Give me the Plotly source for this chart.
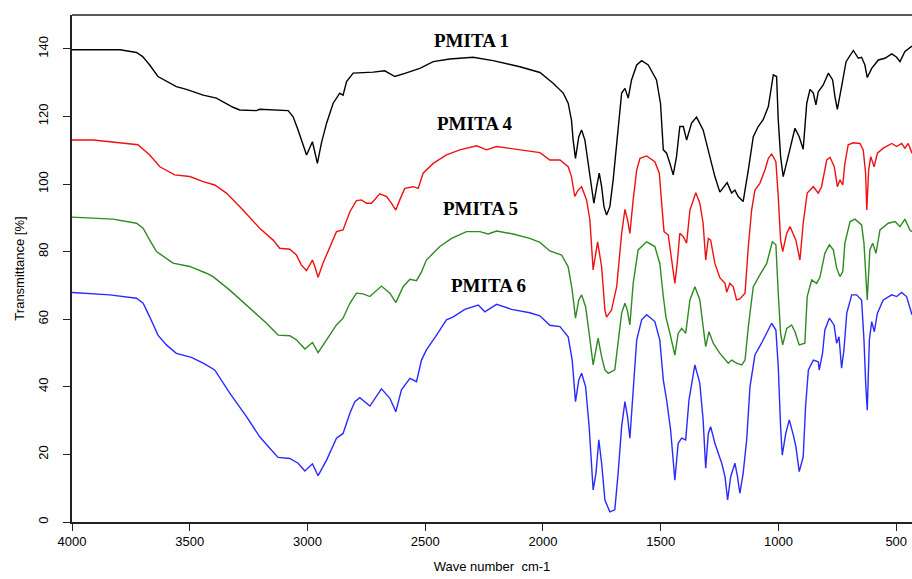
import plotly.graph_objects as go

# ---------------- data (wavenumber cm-1, transmittance %) ----------------
pm1_wn = [4000, 3796, 3726, 3700, 3670, 3635, 3557, 3514, 3443, 3387, 3316, 3288, 3217, 3203, 3082, 3061, 3040, 3019, 3004, 2979, 2969, 2958, 2941, 2919, 2891, 2863, 2849, 2834, 2806, 2721, 2672, 2629, 2580, 2523, 2466, 2396, 2297, 2212, 2098, 2013, 1957, 1914, 1893, 1879, 1872, 1862, 1848, 1836, 1822, 1808, 1794, 1784, 1772, 1761, 1751, 1741, 1730, 1716, 1702, 1681, 1666, 1652, 1638, 1624, 1602, 1581, 1553, 1518, 1501, 1489, 1475, 1461, 1447, 1433, 1419, 1404, 1390, 1369, 1348, 1320, 1291, 1270, 1249, 1218, 1199, 1185, 1171, 1150, 1128, 1107, 1086, 1065, 1043, 1022, 1008, 1001, 991, 980, 959, 930, 912, 895, 880, 866, 852, 841, 831, 810, 788, 770, 760, 750, 732, 713, 682, 661, 647, 633, 623, 604, 576, 548, 519, 498, 484, 463, 433]
pm1_t = [139.7, 139.7, 138.9, 137.7, 135.2, 131.8, 128.8, 128.0, 126.3, 125.4, 122.7, 121.9, 121.7, 122.1, 121.7, 119.9, 116.0, 111.6, 108.6, 112.5, 109.6, 106.1, 112.1, 118.0, 123.9, 126.9, 126.3, 130.3, 132.8, 133.1, 133.5, 131.8, 132.9, 134.2, 136.2, 137.0, 137.5, 136.5, 134.7, 133.0, 129.8, 126.9, 123.9, 118.9, 113.0, 107.6, 114.0, 116.0, 113.0, 106.1, 98.2, 94.3, 99.2, 103.2, 99.2, 93.3, 90.8, 93.3, 101.2, 116.0, 126.9, 128.3, 125.4, 130.8, 135.2, 136.5, 135.2, 130.8, 123.9, 110.1, 109.1, 106.1, 102.7, 108.1, 117.0, 117.0, 113.0, 118.0, 119.8, 116.0, 108.1, 102.2, 97.6, 100.4, 97.3, 98.2, 96.3, 94.8, 104.2, 114.0, 117.0, 119.0, 122.9, 132.3, 131.8, 119.0, 108.1, 102.2, 108.1, 116.5, 114.0, 110.3, 123.9, 128.0, 126.9, 123.4, 127.3, 129.3, 132.8, 130.8, 125.8, 122.1, 128.8, 136.2, 139.5, 137.2, 137.5, 135.2, 131.5, 134.2, 136.7, 137.2, 138.5, 137.5, 136.2, 139.2, 140.8]

pm4_wn = [4000, 3910, 3769, 3720, 3670, 3627, 3564, 3500, 3443, 3394, 3344, 3274, 3203, 3146, 3118, 3075, 3047, 3026, 3004, 2979, 2969, 2955, 2934, 2905, 2877, 2849, 2820, 2792, 2771, 2749, 2728, 2693, 2664, 2643, 2625, 2608, 2587, 2551, 2530, 2509, 2466, 2410, 2353, 2282, 2240, 2197, 2098, 2013, 1971, 1928, 1893, 1879, 1865, 1851, 1836, 1815, 1801, 1787, 1768, 1751, 1737, 1730, 1709, 1687, 1666, 1652, 1641, 1631, 1617, 1602, 1588, 1560, 1525, 1506, 1496, 1486, 1468, 1454, 1440, 1430, 1419, 1404, 1390, 1376, 1351, 1334, 1320, 1309, 1298, 1288, 1270, 1249, 1227, 1220, 1206, 1192, 1178, 1164, 1150, 1142, 1128, 1114, 1100, 1079, 1057, 1043, 1029, 1011, 1001, 991, 982, 965, 951, 937, 926, 909, 895, 878, 852, 831, 817, 795, 781, 763, 750, 739, 727, 718, 704, 682, 654, 640, 630, 625, 617, 608, 594, 580, 555, 519, 498, 477, 463, 449, 433]
pm4_t = [113.0, 113.0, 112.0, 111.6, 108.6, 105.1, 102.7, 102.2, 100.7, 99.7, 97.3, 92.3, 86.9, 83.4, 81.0, 80.7, 79.0, 76.0, 74.4, 77.5, 75.6, 72.4, 76.6, 81.5, 85.9, 86.4, 91.8, 95.1, 95.3, 94.3, 94.3, 97.1, 96.3, 94.3, 92.3, 95.3, 98.7, 99.2, 98.7, 103.2, 106.1, 108.6, 110.1, 111.3, 110.1, 111.1, 110.1, 109.3, 107.1, 107.1, 105.1, 102.2, 96.3, 98.2, 99.2, 95.3, 89.5, 74.6, 82.9, 75.5, 62.7, 60.6, 62.7, 69.6, 85.4, 92.5, 89.4, 85.4, 95.3, 104.2, 107.6, 108.3, 106.6, 103.2, 94.3, 85.9, 84.9, 77.5, 70.6, 76.5, 85.4, 84.4, 82.5, 92.3, 97.4, 94.3, 88.4, 77.5, 83.9, 83.4, 76.5, 72.3, 70.6, 68.0, 70.6, 69.6, 65.7, 66.0, 67.2, 67.7, 81.5, 92.3, 98.2, 100.2, 104.2, 107.6, 108.9, 106.6, 96.3, 83.4, 80.0, 85.4, 87.4, 85.4, 83.4, 77.5, 88.4, 97.3, 99.2, 97.3, 99.2, 107.1, 107.9, 105.1, 99.2, 101.2, 99.7, 106.1, 111.6, 112.2, 112.0, 110.1, 103.2, 92.3, 104.2, 108.1, 105.1, 109.1, 110.6, 112.0, 111.1, 112.0, 110.6, 112.0, 109.1]

pm5_wn = [4000, 3826, 3726, 3698, 3670, 3641, 3571, 3500, 3429, 3401, 3330, 3245, 3174, 3125, 3075, 3047, 3011, 2979, 2955, 2919, 2877, 2849, 2820, 2792, 2764, 2735, 2686, 2650, 2625, 2594, 2565, 2537, 2516, 2495, 2438, 2388, 2325, 2268, 2233, 2197, 2127, 2056, 2013, 1971, 1921, 1893, 1876, 1862, 1848, 1836, 1819, 1804, 1787, 1766, 1751, 1737, 1723, 1695, 1681, 1666, 1652, 1642, 1631, 1617, 1596, 1560, 1525, 1504, 1489, 1478, 1461, 1440, 1426, 1411, 1394, 1376, 1355, 1334, 1320, 1309, 1295, 1277, 1249, 1213, 1199, 1178, 1156, 1142, 1128, 1107, 1079, 1050, 1026, 1011, 1001, 991, 982, 965, 944, 930, 912, 888, 878, 859, 838, 824, 803, 784, 767, 753, 739, 727, 718, 696, 675, 647, 637, 629, 623, 612, 600, 586, 569, 534, 505, 484, 463, 442, 433]
pm5_t = [90.2, 89.6, 88.4, 86.9, 83.4, 80.0, 76.6, 75.6, 73.6, 72.6, 68.6, 63.2, 58.8, 55.3, 55.1, 53.9, 51.2, 53.1, 50.1, 53.9, 58.3, 60.3, 64.7, 67.7, 67.5, 66.7, 69.8, 67.7, 64.9, 69.6, 71.8, 71.4, 74.0, 77.5, 81.5, 83.9, 85.9, 85.9, 85.2, 86.1, 85.2, 83.9, 82.7, 80.2, 79.0, 75.5, 68.6, 60.3, 65.7, 67.2, 63.7, 55.8, 46.5, 54.4, 48.9, 45.0, 44.0, 45.0, 53.9, 61.8, 64.7, 62.7, 58.3, 70.6, 80.5, 82.9, 81.5, 76.5, 66.7, 60.7, 55.8, 49.4, 55.8, 57.3, 55.8, 65.7, 69.6, 65.7, 57.8, 51.9, 56.3, 52.9, 49.9, 47.0, 47.9, 47.0, 46.5, 47.9, 57.8, 69.6, 73.1, 76.5, 82.9, 82.0, 67.7, 55.8, 52.4, 57.3, 58.3, 56.3, 52.4, 52.9, 66.7, 71.6, 70.6, 72.4, 79.5, 82.0, 80.5, 75.1, 72.6, 74.1, 82.5, 88.9, 89.6, 87.9, 82.5, 70.6, 65.7, 80.5, 82.5, 79.5, 86.4, 88.4, 88.9, 87.4, 89.6, 86.4, 85.9]

pm6_wn = [4000, 3840, 3726, 3698, 3670, 3635, 3599, 3557, 3493, 3443, 3394, 3330, 3259, 3203, 3160, 3125, 3075, 3040, 3011, 2979, 2955, 2919, 2877, 2849, 2820, 2799, 2778, 2735, 2686, 2650, 2625, 2601, 2565, 2537, 2516, 2495, 2452, 2410, 2381, 2332, 2275, 2247, 2197, 2133, 2056, 2013, 1971, 1928, 1893, 1876, 1862, 1848, 1836, 1819, 1804, 1787, 1775, 1763, 1751, 1737, 1716, 1695, 1681, 1666, 1652, 1641, 1631, 1617, 1602, 1581, 1560, 1525, 1504, 1489, 1475, 1458, 1440, 1426, 1411, 1394, 1380, 1355, 1334, 1320, 1309, 1298, 1288, 1270, 1241, 1227, 1216, 1203, 1185, 1174, 1164, 1150, 1135, 1121, 1100, 1072, 1050, 1029, 1011, 1001, 991, 984, 969, 954, 937, 926, 912, 895, 885, 873, 852, 831, 827, 813, 803, 784, 764, 753, 743, 732, 722, 710, 689, 668, 647, 637, 629, 623, 614, 604, 593, 580, 555, 519, 498, 477, 456, 442, 433]
pm6_t = [67.9, 67.2, 66.2, 64.7, 60.7, 55.3, 52.4, 49.9, 48.7, 47.0, 45.0, 38.1, 31.2, 25.2, 21.8, 19.1, 18.8, 17.4, 15.1, 17.2, 13.7, 18.3, 24.8, 26.2, 32.2, 35.6, 36.8, 34.3, 39.4, 36.6, 32.6, 39.1, 42.5, 41.5, 47.9, 50.9, 55.3, 59.8, 60.7, 62.9, 64.2, 62.2, 64.4, 62.9, 61.9, 61.0, 58.2, 57.8, 54.8, 47.9, 35.6, 42.0, 44.0, 40.0, 28.2, 9.5, 14.4, 24.3, 17.4, 6.5, 3.0, 3.6, 14.4, 28.2, 35.6, 31.2, 24.8, 40.0, 53.9, 59.8, 61.3, 59.3, 53.9, 42.0, 36.1, 27.2, 12.4, 23.3, 24.8, 24.3, 36.1, 46.5, 41.0, 30.2, 15.9, 26.2, 28.2, 23.3, 17.4, 13.4, 6.5, 13.4, 17.4, 13.4, 8.5, 14.4, 24.3, 40.0, 49.4, 52.9, 55.8, 58.8, 56.8, 46.0, 28.2, 19.8, 26.2, 30.2, 25.7, 22.3, 14.9, 19.3, 34.1, 45.0, 47.9, 47.4, 45.0, 49.9, 56.8, 60.3, 58.3, 52.9, 54.8, 45.5, 50.9, 61.8, 67.2, 67.2, 65.7, 53.9, 40.0, 33.1, 53.9, 59.3, 56.3, 61.8, 65.7, 67.2, 66.7, 67.9, 66.7, 63.7, 61.3]

series = [
    ("PMITA 1", pm1_wn, pm1_t, "#000000"),
    ("PMITA 4", pm4_wn, pm4_t, "#ee1111"),
    ("PMITA 5", pm5_wn, pm5_t, "#2f8a22"),
    ("PMITA 6", pm6_wn, pm6_t, "#2a2aff"),
]
label_wn = [2304, 2287, 2264, 2232]
label_t = [142.5, 117.9, 92.9, 70.1]

x_ticks = [4000, 3500, 3000, 2500, 2000, 1500, 1000, 500]
y_ticks = [0, 20, 40, 60, 80, 100, 120, 140]

fig = go.Figure()
for name, wn, t, col in series:
    fig.add_trace(go.Scatter(x=wn, y=t, mode="lines", name=name,
                             line=dict(color=col, width=1.4), showlegend=False))

for (name, _, _, _), lx, ly in zip(series, label_wn, label_t):
    fig.add_annotation(x=lx, y=ly, text="<b>" + name + "</b>", showarrow=False,
                       font=dict(family="Liberation Serif, Times New Roman, serif",
                                 size=19, color="#000000"))

tick_font = dict(family="Liberation Sans Narrow, Liberation Sans, Arial, sans-serif",
                 size=13, color="#000000")

fig.update_layout(
    width=912, height=579,
    margin=dict(l=72, r=0, t=15, b=57),
    paper_bgcolor="white", plot_bgcolor="white",
    xaxis=dict(range=[4000, 433], tickvals=x_ticks, ticks="outside", ticklen=7,
               tickwidth=1.2, tickcolor="#222", showline=True, linecolor="#222",
               linewidth=1.5, showgrid=False, zeroline=False, tickfont=tick_font,
               title=dict(text="Wave number  cm-1",
                          font=dict(family="Liberation Sans Narrow, Liberation Sans, Arial, sans-serif",
                                    size=13, color="#000"), standoff=14)),
    yaxis=dict(range=[0, 150], tickvals=y_ticks, ticks="outside", ticklen=7,
               tickwidth=1.2, tickcolor="#222", showline=True, linecolor="#222",
               linewidth=1.5, showgrid=False, zeroline=False, tickangle=-90,
               tickfont=tick_font, ticklabelstandoff=10,
               title=dict(text="Transmittance [%]",
                          font=dict(family="Liberation Sans, Arial, sans-serif",
                                    size=13, color="#000"), standoff=8)),
)
fig.add_shape(type="line", xref="paper", yref="paper", x0=0, x1=1, y0=1, y1=1,
              line=dict(color="#222", width=1.5))

fig.write_html("out.html")
